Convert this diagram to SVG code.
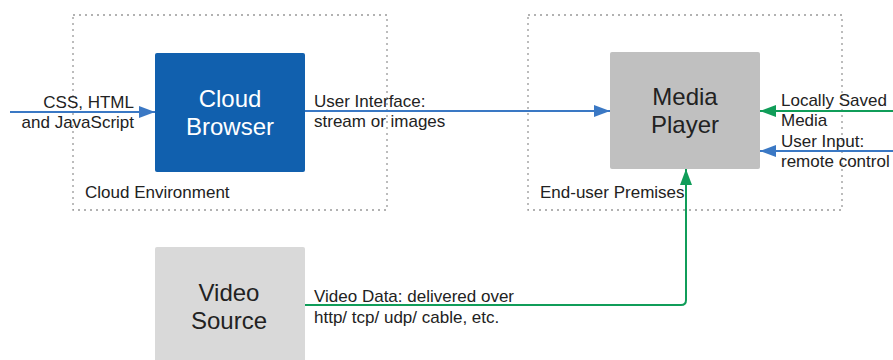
<svg xmlns="http://www.w3.org/2000/svg" width="893" height="360" viewBox="0 0 893 360">
<defs>
<style>
.zone{fill:none;stroke:#999;stroke-width:1.3;stroke-dasharray:2,4}
.lbl{font-family:"Liberation Sans",Arial,sans-serif;font-size:17px;fill:#222}
.big{font-family:"Liberation Sans",Arial,sans-serif;font-size:24px;text-anchor:middle}
.blue{stroke:#3a78c4;stroke-width:2;fill:none}
.green{stroke:#109d59;stroke-width:2;fill:none}
</style>
<marker id="ab" viewBox="0 0 16 12" refX="16" refY="6" markerWidth="16" markerHeight="12" markerUnits="userSpaceOnUse" orient="auto"><path d="M0,0L16,6L0,12z" fill="#3a78c4"/></marker>
<marker id="ag" viewBox="0 0 16 12" refX="16" refY="6" markerWidth="16" markerHeight="12" markerUnits="userSpaceOnUse" orient="auto"><path d="M0,0L16,6L0,12z" fill="#109d59"/></marker>
</defs>
<rect width="893" height="360" fill="#fff"/>
<g id="cloud-env">
<rect class="zone" x="73" y="15" width="314" height="195"/>
<text class="lbl" x="85" y="198">Cloud Environment</text>
</g>
<g id="premises">
<rect class="zone" x="528" y="15" width="314" height="195"/>
<text class="lbl" x="540" y="198">End-user Premises</text>
</g>
<g id="cloud-browser">
<rect x="155" y="53" width="150" height="119" rx="2" fill="#1160ae"/>
<text class="big" x="230" y="107" fill="#fff">Cloud</text>
<text class="big" x="230" y="135" fill="#fff">Browser</text>
</g>
<g id="media-player">
<rect x="610" y="52" width="150" height="117" rx="2" fill="#c0c0c0"/>
<text class="big" x="685" y="105" fill="#222">Media</text>
<text class="big" x="685" y="133" fill="#222">Player</text>
</g>
<g id="video-source">
<rect x="155" y="247" width="150" height="120" rx="2" fill="#d9d9d9"/>
<text class="big" x="229" y="301" fill="#222">Video</text>
<text class="big" x="229" y="329" fill="#222">Source</text>
</g>
<g id="connectors">
<path class="blue" d="M10,112H155" marker-end="url(#ab)"/>
<path class="blue" d="M305,111H610" marker-end="url(#ab)"/>
<path class="green" d="M893,111H760" marker-end="url(#ag)"/>
<path class="blue" d="M893,151H760" marker-end="url(#ab)"/>
<path class="green" d="M305,305H681Q686,305 686,300V169" marker-end="url(#ag)"/>
</g>
<g id="labels">
<text class="lbl" x="134" y="108" text-anchor="end">CSS, HTML</text>
<text class="lbl" x="134" y="128" text-anchor="end">and JavaScript</text>
<text class="lbl" x="314" y="107">User Interface:</text>
<text class="lbl" x="314" y="127">stream or images</text>
<text class="lbl" x="781" y="106">Locally Saved</text>
<text class="lbl" x="781" y="126">Media</text>
<text class="lbl" x="781" y="147">User Input:</text>
<text class="lbl" x="781" y="167">remote control</text>
<text class="lbl" x="314" y="302">Video Data: delivered over</text>
<text class="lbl" x="314" y="323">http/ tcp/ udp/ cable, etc.</text>
</g>
</svg>
